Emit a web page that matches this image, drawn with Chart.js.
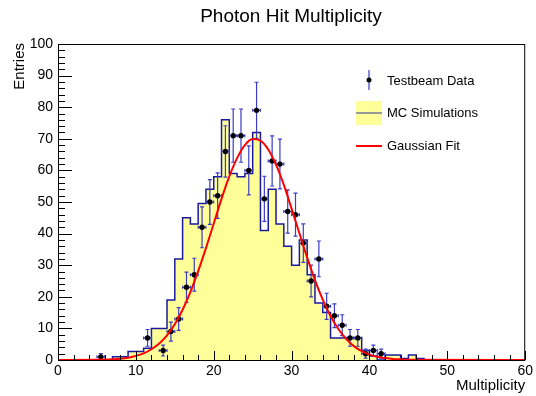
<!DOCTYPE html>
<html>
<head>
<meta charset="utf-8">
<script src="https://cdn.jsdelivr.net/npm/chart.js@4.4.1/dist/chart.umd.min.js"></script>
<style>
html, body { margin: 0; padding: 0; background: #fff; }
#wrap { width: 536px; height: 396px; }
</style>
</head>
<body>
<div id="wrap"><canvas id="c" width="536" height="396"></canvas></div>
<script>
// bins of width 1 from 0 to 60
const binLow = Array.from({ length: 60 }, (_, i) => i);

// MC simulation histogram (bin contents)
const mcCounts = [0, 0, 0, 0, 0, 0, 0, 0, 1, 1,
    2.7, 2.7, 3.7, 10, 10, 19, 32, 45, 43, 49.5,
    54, 58, 76, 59, 58, 59, 72, 41, 54, 43,
    36, 30, 38, 27, 18, 15, 7, 7, 7, 7,
    3, 1.3, 0, 1.6, 1.6, 0.5, 1.6, 0.5, 0, 0,
    0, 0, 0, 0, 0, 0, 0, 0, 0, 0];

// testbeam data (entries per bin)
const dataCounts = [0, 0, 0, 0, 0, 1, 0, 0, 0, 0,
    0, 7, 0, 3, 9, 13, 23, 27, 42, 50,
    52, 66, 71, 71, 60, 79, 51, 63, 62, 47,
    46, 37, 25, 32, 17, 14, 11, 7, 7, 2,
    3, 2, 0, 0, 0, 0, 0, 0, 0, 0,
    0, 0, 0, 0, 0, 0, 0, 0, 0, 0];

// gaussian fit curve
const fitX = [0, 5, 8, 9, 10, 11, 12, 13, 14, 15, 16, 17, 18, 19, 20, 21, 22, 23, 24, 25,
    26, 27, 28, 29, 30, 31, 32, 33, 34, 35, 36, 37, 38, 39, 40, 41, 42, 43, 44, 45, 60];
const fitY = [0, 0.06, 0.4, 0.7, 1.3, 2.1, 3.4, 5.2, 7.8, 11.3, 15.9, 21.5, 28.1, 35.4, 43.2, 51, 58.1, 63.9, 68, 69.9,
    69.4, 66.6, 61.8, 55.4, 47.9, 40.1, 32.4, 25.3, 19.1, 13.9, 9.8, 6.7, 4.4, 2.8, 1.7, 1, 0.6, 0.3, 0.2, 0.1, 0];

const xTicks = [0, 10, 20, 30, 40, 50, 60];
const yTicks = [0, 10, 20, 30, 40, 50, 60, 70, 80, 90, 100];

const FONT = '"Liberation Sans", Arial, Helvetica, sans-serif';
const ERR_COLOR = '#3c3cc4';

// step histogram points (edges)
const histPoints = binLow.map((x, i) => ({ x: x, y: mcCounts[i] }));
histPoints.push({ x: 60, y: mcCounts[59] });

const dataPoints = [];
binLow.forEach((x, i) => {
    if (dataCounts[i] > 0) dataPoints.push({ x: x + 0.5, y: dataCounts[i] });
});

const fitPoints = fitX.map((x, i) => ({ x: x, y: fitY[i] }));

// error bars of the data, drawn right after the histogram
const errorBars = {
    id: 'errorBars',
    afterDatasetDraw(chart, args) {
        if (args.index !== 0) return;
        const ctx = chart.ctx;
        const xs = chart.scales.x, ys = chart.scales.y;
        ctx.save();
        ctx.strokeStyle = ERR_COLOR;
        ctx.lineWidth = 1.2;
        dataPoints.forEach(p => {
            const err = Math.sqrt(p.y);
            const px = xs.getPixelForValue(p.x);
            const py = ys.getPixelForValue(p.y);
            const top = ys.getPixelForValue(p.y + err);
            const bot = ys.getPixelForValue(Math.max(0, p.y - err));
            const l = xs.getPixelForValue(p.x - 0.5);
            const r = xs.getPixelForValue(p.x + 0.5);
            ctx.beginPath();
            ctx.moveTo(px, top); ctx.lineTo(px, bot);
            ctx.moveTo(px - 2, top); ctx.lineTo(px + 2, top);
            ctx.moveTo(px - 2, bot); ctx.lineTo(px + 2, bot);
            ctx.moveTo(l, py); ctx.lineTo(r, py);
            ctx.moveTo(l, py - 1.5); ctx.lineTo(l, py + 1.5);
            ctx.moveTo(r, py - 1.5); ctx.lineTo(r, py + 1.5);
            ctx.stroke();
        });
        ctx.restore();
    }
};

// ROOT style frame: ticks inside, titles, legend
const rootFrame = {
    id: 'rootFrame',
    afterDraw(chart) {
        const ctx = chart.ctx;
        const a = chart.chartArea;
        const xs = chart.scales.x, ys = chart.scales.y;
        ctx.save();
        ctx.strokeStyle = '#000';
        ctx.lineWidth = 1;
        ctx.strokeRect(a.left + 0.5, a.top + 0.5, a.right - a.left - 1, a.bottom - a.top);

        ctx.beginPath();
        for (let v = 0; v <= 60; v += 2) {
            const px = Math.round(xs.getPixelForValue(v)) + 0.5;
            const len = v % 10 === 0 ? 9 : 5;
            ctx.moveTo(px, a.bottom); ctx.lineTo(px, a.bottom - len);
        }
        for (let v = 0; v <= 100; v += 2) {
            const py = Math.round(ys.getPixelForValue(v)) + 0.5;
            const len = v % 10 === 0 ? 14 : 7;
            ctx.moveTo(a.left, py); ctx.lineTo(a.left + len, py);
        }
        ctx.stroke();

        // title
        ctx.fillStyle = '#000';
        ctx.font = '19px ' + FONT;
        ctx.textAlign = 'center';
        ctx.textBaseline = 'middle';
        ctx.fillText('Photon Hit Multiplicity', 291, 17);

        // axis titles
        ctx.font = '15px ' + FONT;
        ctx.textAlign = 'right';
        ctx.fillText('Multiplicity', a.right, 386);
        ctx.save();
        ctx.translate(20, a.top - 1);
        ctx.rotate(-Math.PI / 2);
        ctx.textAlign = 'right';
        ctx.fillText('Entries', 0, 0);
        ctx.restore();

        // legend
        ctx.font = '13px ' + FONT;
        ctx.textAlign = 'left';
        ctx.fillText('Testbeam Data', 387, 81);
        ctx.fillText('MC Simulations', 387, 113);
        ctx.fillText('Gaussian Fit', 387, 146);

        ctx.strokeStyle = ERR_COLOR;
        ctx.lineWidth = 1.2;
        ctx.beginPath();
        ctx.moveTo(369, 70); ctx.lineTo(369, 90);
        ctx.stroke();
        ctx.fillStyle = '#000';
        ctx.beginPath();
        ctx.arc(369, 80, 2.5, 0, Math.PI * 2);
        ctx.fill();

        ctx.fillStyle = '#ffff99';
        ctx.fillRect(356, 101, 26, 24);
        ctx.strokeStyle = '#77779a';
        ctx.lineWidth = 1.5;
        ctx.beginPath();
        ctx.moveTo(356, 113); ctx.lineTo(382, 113);
        ctx.stroke();

        ctx.strokeStyle = '#ff0000';
        ctx.lineWidth = 2;
        ctx.beginPath();
        ctx.moveTo(356, 146); ctx.lineTo(382, 146);
        ctx.stroke();
        ctx.restore();
    }
};

new Chart(document.getElementById('c'), {
    type: 'scatter',
    data: {
        datasets: [{
            label: 'MC Simulations',
            type: 'line',
            data: histPoints,
            stepped: 'after',
            fill: 'origin',
            backgroundColor: '#ffff99',
            borderColor: '#1a1aa0',
            borderWidth: 1.5,
            pointRadius: 0,
            order: 3
        }, {
            label: 'Testbeam Data',
            data: dataPoints,
            pointRadius: 2.7,
            pointBorderWidth: 0,
            pointBackgroundColor: '#000',
            pointBorderColor: '#000',
            order: 2
        }, {
            label: 'Gaussian Fit',
            type: 'line',
            data: fitPoints,
            borderColor: '#ff0000',
            borderWidth: 2,
            pointRadius: 0,
            cubicInterpolationMode: 'monotone',
            fill: false,
            order: 1
        }]
    },
    options: {
        responsive: false,
        animation: false,
        devicePixelRatio: 1,
        layout: { padding: { left: 0, top: 44, right: 10, bottom: 0 } },
        plugins: {
            legend: { display: false },
            tooltip: { enabled: false }
        },
        scales: {
            x: {
                type: 'linear',
                min: 0,
                max: 60,
                afterFit(s) { s.height = 36; },
                afterBuildTicks(s) { s.ticks = xTicks.map(v => ({ value: v })); },
                grid: { display: false, drawTicks: false },
                border: { display: false },
                ticks: { color: '#000', padding: 3, font: { family: FONT, size: 14 }, maxRotation: 0 }
            },
            y: {
                type: 'linear',
                min: 0,
                max: 100,
                afterFit(s) { s.width = 58; },
                afterBuildTicks(s) { s.ticks = yTicks.map(v => ({ value: v })); },
                grid: { display: false, drawTicks: false },
                border: { display: false },
                ticks: { color: '#000', padding: 5, font: { family: FONT, size: 14 } }
            }
        }
    },
    plugins: [errorBars, rootFrame]
});
</script>
</body>
</html>
